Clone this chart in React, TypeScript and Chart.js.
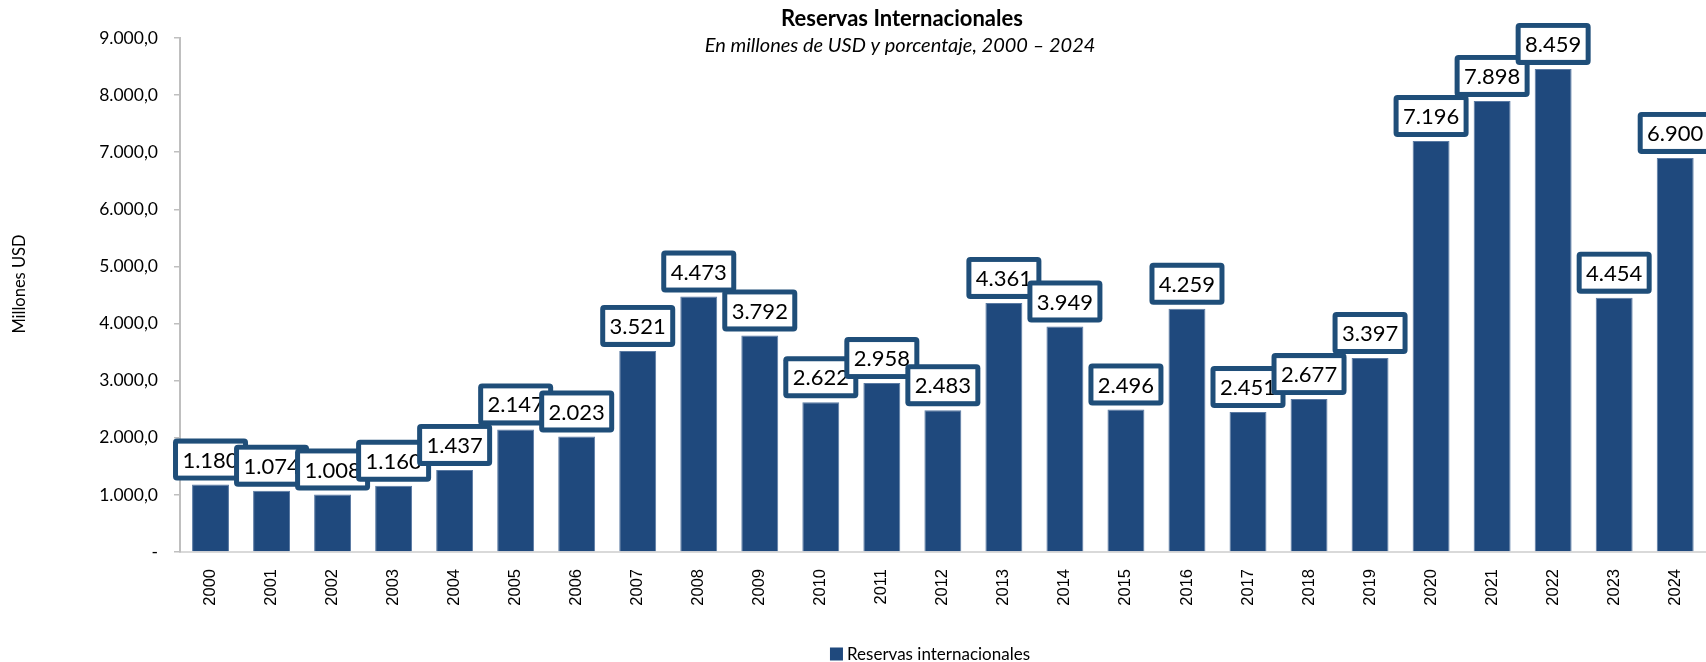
import React, { useEffect, useRef } from "react";
import { Chart, registerables } from "chart.js";

Chart.register(...registerables);

const years = ["2000","2001","2002","2003","2004","2005","2006","2007","2008","2009","2010","2011","2012","2013","2014","2015","2016","2017","2018","2019","2020","2021","2022","2023","2024"];
const reservas = [1180, 1074, 1008, 1160, 1437, 2147, 2023, 3521, 4473, 3792, 2622, 2958, 2483, 4361, 3949, 2496, 4259, 2451, 2677, 3397, 7196, 7898, 8459, 4454, 6900];
const seriesLabel = "Reservas internacionales";
const titleText = "Reservas Internacionales";
const subtitleText = "En millones de USD y porcentaje, 2000 – 2024";
const yAxisTitle = "Millones USD";

const BAR = "#1F497D";
const BOX = "#1F4E79";

function fmtThousands(v: number): string {
  return Math.round(v).toString().replace(/\B(?=(\d{3})+(?!\d))/g, ".");
}

const labelBoxes = {
  id: "labelBoxes",
  afterDatasetsDraw(chart: any) {
    const ctx = chart.ctx;
    const meta = chart.getDatasetMeta(0);
    const data = chart.data.datasets[0].data as number[];
    ctx.save();
    meta.data.forEach((el: any, i: number) => {
      const w = 75, h = 42, b = 5;
      const left = el.x - w / 2;
      const bottom = el.y - 4;
      const top = bottom - h;
      ctx.fillStyle = BOX;
      ctx.beginPath();
      (ctx as any).roundRect(left, top, w, h, 4);
      ctx.fill();
      ctx.fillStyle = "#FFFFFF";
      ctx.fillRect(left + b, top + b, w - 2 * b, h - 2 * b);
      ctx.fillStyle = "#000000";
      ctx.font = "22px Lato";
      ctx.textAlign = "center";
      ctx.textBaseline = "middle";
      ctx.fillText(fmtThousands(data[i]), el.x, top + h / 2 + 1);
    });
    ctx.restore();
  },
};

const decorations = {
  id: "decorations",
  afterDraw(chart: any) {
    const ctx = chart.ctx;
    ctx.save();
    ctx.fillStyle = "#000000";
    ctx.textAlign = "center";
    ctx.textBaseline = "middle";
    ctx.font = "bold 22px Lato";
    ctx.fillText(titleText, 902, 19);
    ctx.font = "italic 20px Lato";
    ctx.fillText(subtitleText, 900, 46);

    // y-axis title
    ctx.save();
    ctx.translate(20, 284);
    ctx.rotate(-Math.PI / 2);
    ctx.font = "16.5px Lato";
    ctx.fillText(yAxisTitle, 0, 0);
    ctx.restore();

    // legend
    ctx.font = "17px Lato";
    const tw = ctx.measureText(seriesLabel).width;
    const box = 13;
    const gap = 4;
    const total = box + gap + tw;
    const cx = 930;
    const cy = 654;
    const x0 = cx - total / 2;
    ctx.fillStyle = BAR;
    ctx.fillRect(x0, cy - box / 2, box, box);
    ctx.fillStyle = "#000000";
    ctx.textAlign = "left";
    ctx.fillText(seriesLabel, x0 + box + gap, cy + 1);
    ctx.restore();
  },
};

const CANVAS_W = 1712;

export default function App() {
  const ref = useRef<HTMLCanvasElement | null>(null);
  useEffect(() => {
    document.body.style.margin = "0";
    document.body.style.overflow = "hidden";
    if (!ref.current) return;
    const chart = new Chart(ref.current, {
      type: "bar",
      data: {
        labels: years,
        datasets: [
          {
            label: seriesLabel,
            data: reservas,
            backgroundColor: BAR,
            borderColor: "#5A7AA3",
            borderWidth: 1,
            categoryPercentage: 1,
            barPercentage: 0.605,
          },
        ],
      },
      options: {
        animation: false,
        responsive: false,
        maintainAspectRatio: false,
        layout: { padding: { top: 38, left: 0, right: 0, bottom: 0 } },
        plugins: {
          tooltip: { enabled: false },
          legend: { display: false },
        },
        scales: {
          x: {
            grid: { display: false, drawTicks: false },
            border: { display: true, color: "#D9D9D9", width: 2 },
            ticks: {
              minRotation: 90,
              maxRotation: 90,
              padding: 17,
              color: "#000000",
              font: { family: "Liberation Sans", size: 16.5 },
            },
            afterFit: (scale: any) => {
              scale.height = 110;
            },
          },
          y: {
            min: 0,
            max: 9000,
            ticks: {
              stepSize: 1000,
              padding: 16,
              color: "#000000",
              font: { family: "Lato", size: 17.5 },
              callback: (v: any) => (Number(v) === 0 ? "-" : fmtThousands(Number(v)) + ",0"),
            },
            grid: { display: true, drawOnChartArea: false, drawTicks: true, tickLength: 6, color: "#BFBFBF", lineWidth: 1.5 },
            border: { display: true, color: "#BFBFBF", width: 2 },
            afterFit: (scale: any) => {
              scale.width = 180;
            },
          },
        },
      },
      plugins: [labelBoxes, decorations],
    });
    return () => chart.destroy();
  }, []);
  return (
    <div style={{ width: 1706, height: 662, overflow: "hidden" }}>
      <canvas ref={ref} width={CANVAS_W} height={662} style={{ display: "block" }} />
    </div>
  );
}
